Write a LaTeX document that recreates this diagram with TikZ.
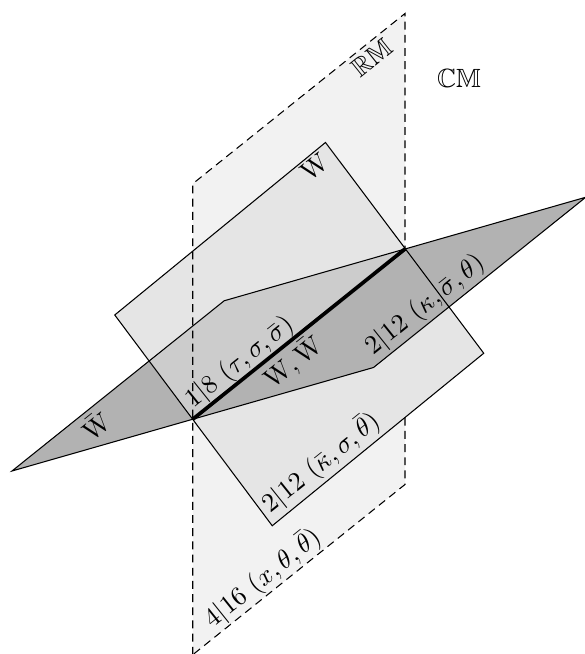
\documentclass[tikz,border=0pt]{standalone}
\usepackage{amsmath}
\usepackage{amsfonts}
\usepackage{amssymb}
\usepackage{tikz}
\usepackage{xcolor}

\begin{document}
\begin{tikzpicture}[
  rmedge/.style={dash pattern=on 3pt off 2pt},
  lbl/.style={rotate=38.7}]
\useasboundingbox (0,0) rectangle (7.8,8.72);

% common line of the three planes
\coordinate (C) at (2.57,3.13);
\coordinate (D) at (5.40,5.40);
% RM plane
\coordinate (rm1) at (2.57,6.27);
\coordinate (rm2) at (5.40,8.54);
\coordinate (rm3) at (5.40,2.26);
\coordinate (rm4) at (2.57,-0.01);
% W plane
\coordinate (wt) at (4.34,6.82);
\coordinate (wr) at (6.45,4.01);
\coordinate (wb) at (3.63,1.71);
\coordinate (wl) at (1.53,4.52);
% Wbar plane
\coordinate (bl) at (0.16,2.44);
\coordinate (bb) at (4.98,3.82);
\coordinate (br) at (7.81,6.09);
\coordinate (bt) at (2.99,4.71);

% fills, back to front
\fill[black!5] (rm1) -- (rm2) -- (rm3) -- (rm4) -- cycle;
\fill[black!30] (bl) -- (C) -- (D) -- (bt) -- cycle;
\fill[black!10] (wt) -- (wr) -- (wb) -- (wl) -- cycle;
\begin{scope}
\clip (wt) -- (wr) -- (wb) -- (wl) -- cycle;
\fill[black!20] (bl) -- (C) -- (D) -- (bt) -- cycle;
\end{scope}
\fill[black!30] (C) -- (bb) -- (br) -- (D) -- cycle;

% outlines
\draw (wt) -- (wr) -- (wb) -- (wl) -- cycle;
\draw (bl) -- (bb) -- (br) -- (bt) -- cycle;
\draw[rmedge] (rm4) -- (rm1) -- (rm2) -- (D);
\coordinate (rmx) at (5.40,3.15);
\draw[rmedge] (rmx) -- (rm3) -- (rm4);
\draw[line width=1.4pt] (C) -- (D);

% labels
\node[lbl] (rmlab) at (4.96,7.95) {$\mathbb{RM}$};
\node (cmlab) at (6.12,7.67) {$\mathbb{CM}$};
\node[lbl] (wlab) at (4.2,6.49) {W};
\node[lbl] (wblab) at (1.27,3.05) {$\bar{\mathrm{W}}$};
\node[lbl] (lab18) at (3.2,3.89) {$1|8\ (\tau,\sigma,\bar\sigma)$};
\node[lbl] (labww) at (3.91,3.89) {$\mathrm{W},\bar{\mathrm{W}}$};
\node[lbl] (lab212a) at (5.67,4.65) {$2|12\ (\kappa,\bar\sigma,\theta)$};
\node[lbl] (lab212b) at (4.28,2.55) {$2|12\ (\bar\kappa,\sigma,\bar\theta)$};
\node[lbl] (lab416) at (3.5,1.01) {$4|16\ (x,\theta,\bar\theta)$};
\end{tikzpicture}
\end{document}
